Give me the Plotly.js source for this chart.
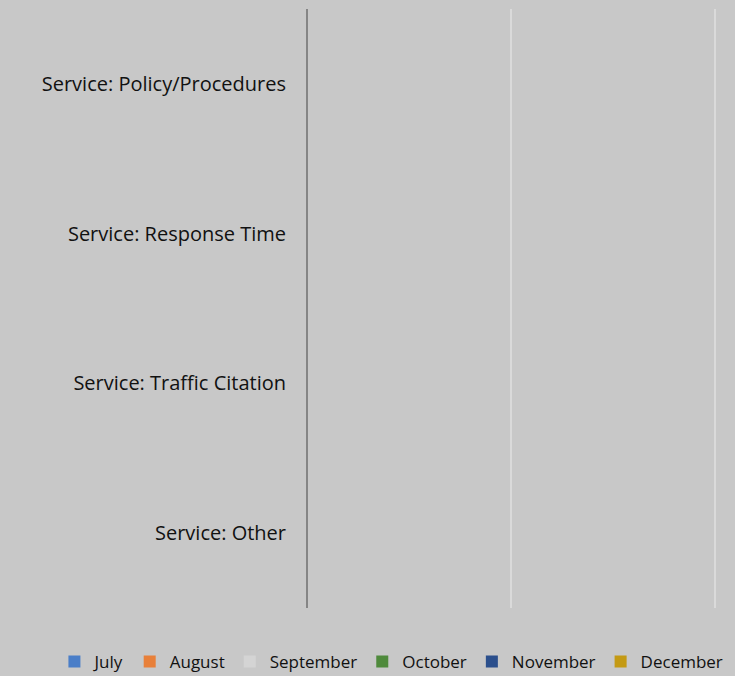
<!DOCTYPE html>
<html>
<head>
<meta charset="utf-8">
<script src="https://cdn.plot.ly/plotly-3.0.1.min.js"></script>
<style>
  html, body { margin: 0; padding: 0; background: #c8c8c8; }
  #chart { width: 735px; height: 676px; }
</style>
</head>
<body>
<div id="chart"></div>
<script>
// categories, top to bottom
const categories = [
    "Service: Policy/Procedures",
    "Service: Response Time",
    "Service: Traffic Citation",
    "Service: Other"
];
const months = ["July", "August", "September", "October", "November", "December"];
const monthColors = ["#4a7ec8", "#e8803a", "#d4d4d4", "#4f8a3c", "#2b4f8c", "#c49a14"];

// every month has nothing recorded for these categories
const july = [0, 0, 0, 0];
const august = [0, 0, 0, 0];
const september = [0, 0, 0, 0];
const october = [0, 0, 0, 0];
const november = [0, 0, 0, 0];
const december = [0, 0, 0, 0];
const values = [july, august, september, october, november, december];

const traces = months.map((m, i) => ({
    type: "bar",
    orientation: "h",
    name: m,
    y: categories,
    x: values[i],
    marker: { color: monthColors[i], line: { width: 0 } }
}));

const layout = {
    width: 735,
    height: 676,
    paper_bgcolor: "#c8c8c8",
    plot_bgcolor: "#c8c8c8",
    margin: { l: 308, r: 18, t: 9, b: 68, autoexpand: false },
    font: { family: "'Open Sans', Lato, sans-serif", size: 17, color: "#111" },
    barmode: "group",
    showlegend: true,
    legend: {
        orientation: "h",
        xref: "paper", yref: "paper",
        x: -0.62, xanchor: "left",
        y: -0.06, yanchor: "top",
        font: { size: 17, color: "#111" },
        itemwidth: 30,
        traceorder: "normal",
        bgcolor: "rgba(0,0,0,0)"
    },
    xaxis: {
        range: [0, 2.01],
        dtick: 1,
        showticklabels: false,
        showgrid: true,
        gridcolor: "#dadada",
        gridwidth: 2,
        zeroline: false,
        showline: false,
        fixedrange: true
    },
    yaxis: {
        autorange: "reversed",
        showline: true,
        linecolor: "#858585",
        linewidth: 2,
        showgrid: false,
        ticks: "",
        ticklabelstandoff: 16,
        tickfont: { size: 20, color: "#111" },
        fixedrange: true
    }
};

Plotly.newPlot("chart", traces, layout, { displayModeBar: false, staticPlot: true });
</script>
</body>
</html>
